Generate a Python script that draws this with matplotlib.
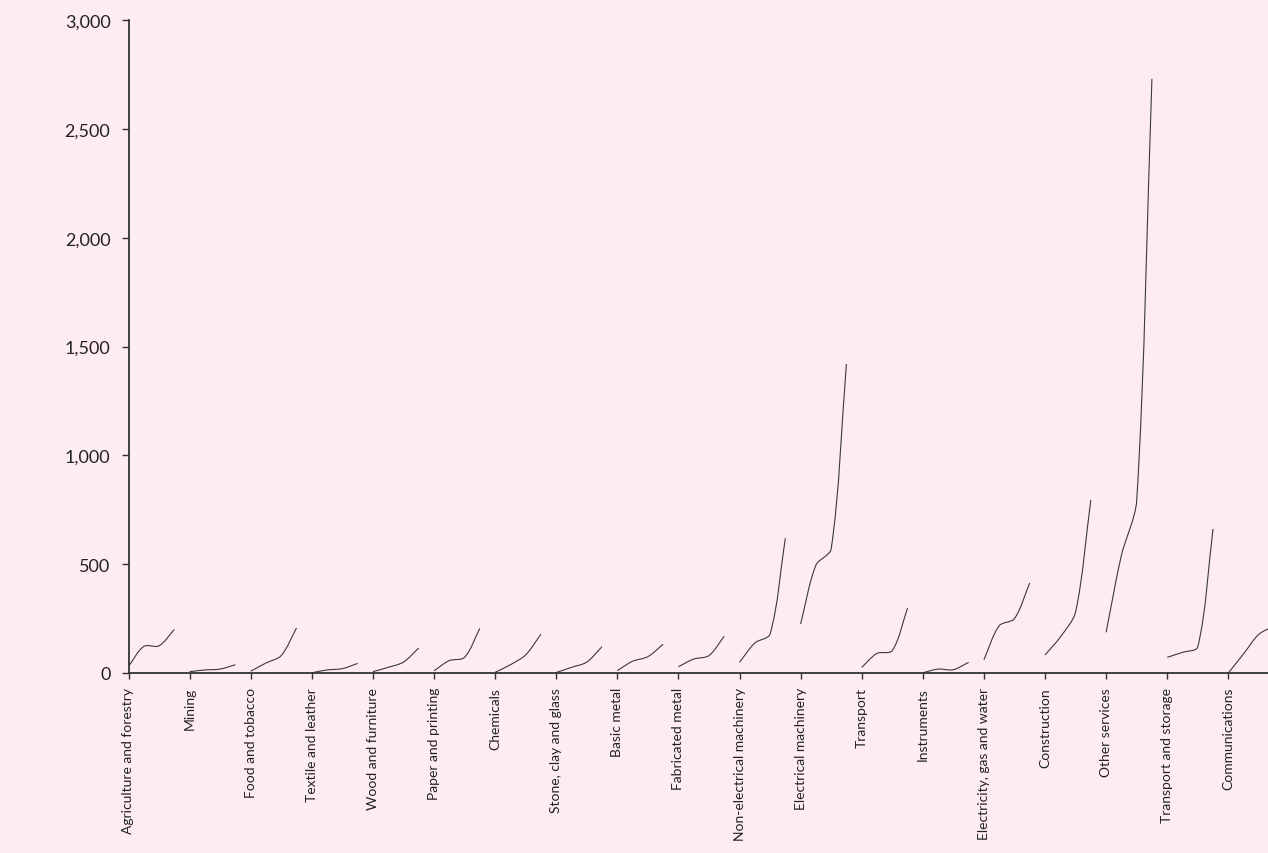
import numpy as np
import matplotlib.pyplot as plt
from matplotlib.path import Path
from matplotlib.patches import PathPatch
from matplotlib.ticker import FuncFormatter

plt.rcParams['font.family'] = ['Lato', 'DejaVu Sans']

sectors = ["Agriculture and forestry", "Mining", "Food and tobacco",
           "Textile and leather", "Wood and furniture", "Paper and printing",
           "Chemicals", "Stone, clay and glass", "Basic metal",
           "Fabricated metal", "Non-electrical machinery",
           "Electrical machinery", "Transport", "Instruments",
           "Electricity, gas and water", "Construction", "Other services",
           "Transport and storage", "Communications"]

# four observations per sector
s1 = [30, 6, 8, 1, 6, 10, 3, 2, 11, 29, 49, 225, 26, 1, 61, 83, 187, 72, 0]
s2 = [122, 14, 46, 14, 26, 57, 38, 26, 54, 64, 138, 495, 90, 18, 217, 165, 540, 95, 88]
s3 = [125, 18, 80, 20, 50, 72, 83, 50, 75, 80, 179, 570, 103, 15, 250, 280, 790, 120, 178]
s4 = [200, 38, 207, 44, 115, 205, 178, 121, 132, 169, 619, 1420, 298, 49, 414, 795, 2730, 662, 215]

bg = '#fdedf2'
fig = plt.figure(figsize=(12.68, 8.54), dpi=100, facecolor=bg)
ax = fig.add_axes([128.5 / 1268, 180 / 854, 1 - 128.5 / 1268, 653 / 854])
ax.set_facecolor(bg)
ax.set_xlim(0, (1268 - 128.5) / (61.1 / 4))
ax.set_ylim(0, 3000)


def smooth_path(xs, ys, t=0.3):
    # excel-like smoothing: tangents worked out in screen space,
    # scaled by the length of each segment so steep jumps don't overshoot
    tr = ax.transData
    pts = tr.transform(np.column_stack([xs, ys]).astype(float))
    n = len(pts)
    verts = [pts[0]]
    codes = [Path.MOVETO]

    def tangent(k):
        d = pts[min(k + 1, n - 1)] - pts[max(k - 1, 0)]
        return d / np.hypot(*d)

    for i in range(n - 1):
        seg = np.hypot(*(pts[i + 1] - pts[i]))
        c1 = pts[i] + tangent(i) * seg * t
        c2 = pts[i + 1] - tangent(i + 1) * seg * t
        verts += [c1, c2, pts[i + 1]]
        codes += [Path.CURVE4] * 3
    verts = tr.inverted().transform(np.array(verts))
    return Path(verts, codes)


for i in range(len(sectors)):
    xs = [4 * i + j for j in range(4)]
    ys = [s1[i], s2[i], s3[i], s4[i]]
    patch = PathPatch(smooth_path(xs, ys), facecolor='none',
                      edgecolor='#3a3a3a', lw=0.8)
    ax.add_patch(patch)

ax.set_yticks(np.arange(0, 3001, 500))
ax.yaxis.set_major_formatter(FuncFormatter(lambda v, p: f"{int(v):,}"))
ax.set_xticks([4 * i for i in range(len(sectors))])
ax.set_xticklabels(sectors, rotation=90, va='top', ha='center')

for s in ['top', 'right']:
    ax.spines[s].set_visible(False)
for s in ['left', 'bottom']:
    ax.spines[s].set_color('#333333')
    ax.spines[s].set_linewidth(1.3)

ax.tick_params(axis='y', labelsize=13, length=5, width=1, color='#333333',
               pad=8, labelcolor='#222222')
ax.tick_params(axis='x', labelsize=10, length=4, width=1, color='#333333',
               pad=6, labelcolor='#222222')

fig.savefig('out.png', dpi=100, facecolor=bg)
